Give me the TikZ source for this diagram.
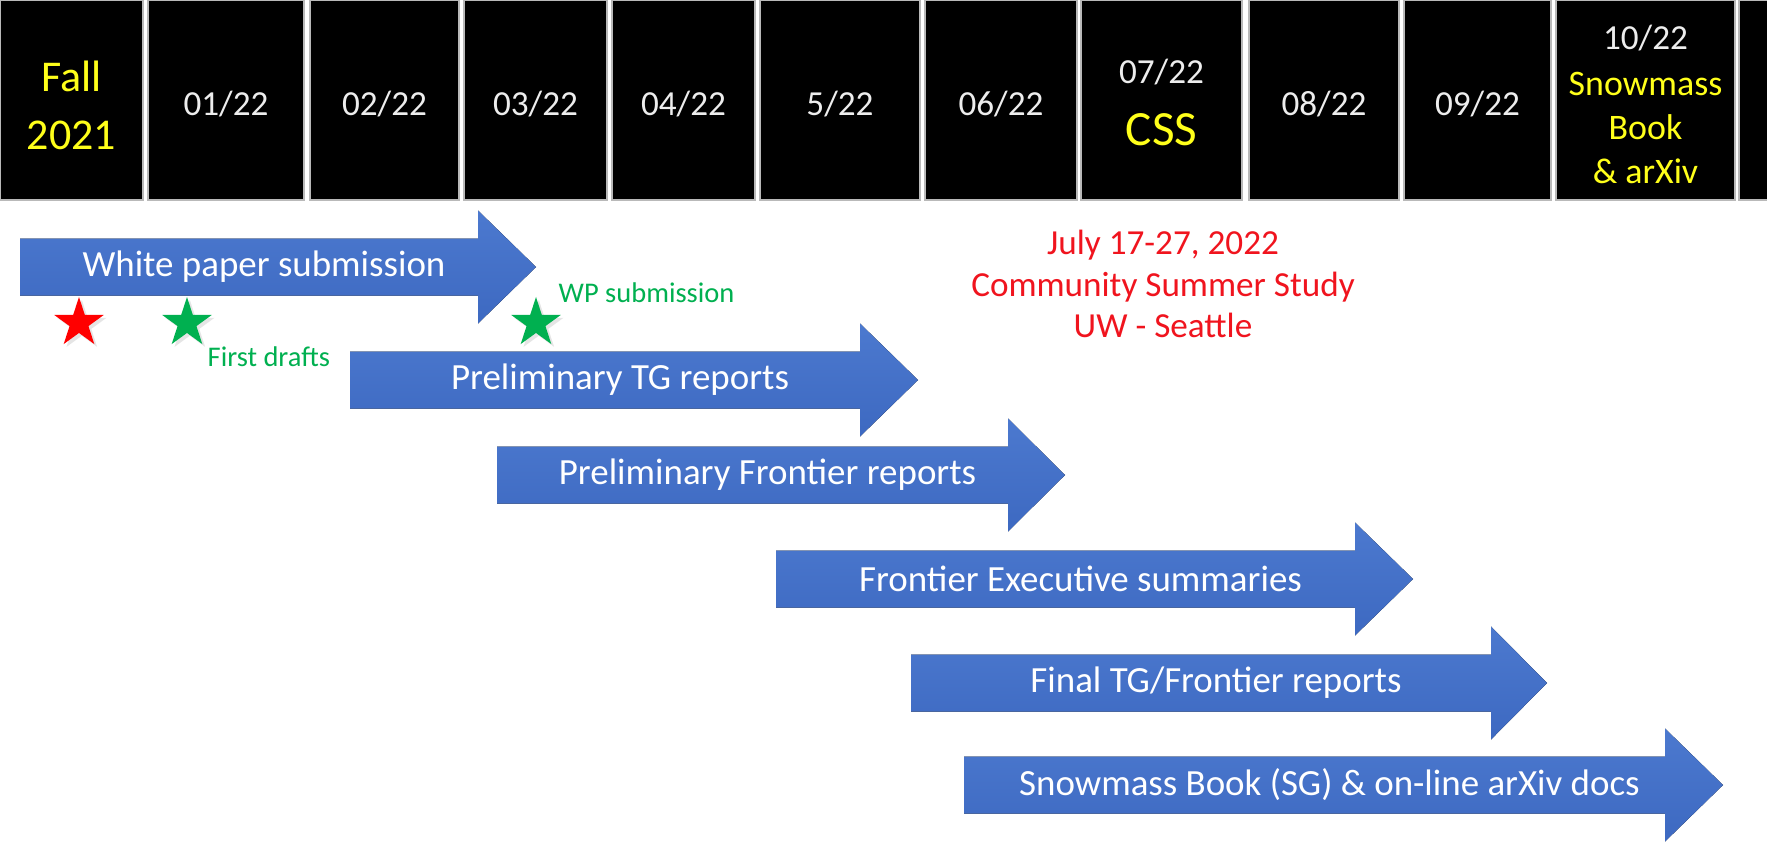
\documentclass[tikz,border=0pt]{standalone}
\usepackage{fontspec}
\setmainfont{Carlito}
\usetikzlibrary{shapes.geometric,shadows}

\definecolor{arrowtop}{HTML}{4C79CF}
\definecolor{arrowbot}{HTML}{3D69C1}
\definecolor{stargreen}{HTML}{00B050}
\definecolor{cssred}{HTML}{F0141E}
\definecolor{hdryellow}{HTML}{FFFF1A}
\definecolor{monthgray}{HTML}{EDEDED}

\tikzset{
  hdrbox/.style={fill=black, draw=gray!55, line width=0.5pt},
  monthtxt/.style={text=monthgray, font=\fontsize{10}{12}\selectfont, inner sep=0pt},
  yeltxt/.style={text=hdryellow, align=center, inner sep=0pt},
  bluearrow/.style={top color=arrowtop, bottom color=arrowbot},
  arrowtxt/.style={text=white, font=\fontsize{10.5}{12.6}\selectfont, inner sep=0pt},
  wpstar/.style={star, star points=5, star point ratio=2.618, shape border rotate=0,
    minimum size=0.52cm, inner sep=0pt,
    drop shadow={opacity=0.2, shadow xshift=0.8pt, shadow yshift=-0.8pt}},
  greennote/.style={text=stargreen, font=\fontsize{8.1}{10}\selectfont, inner sep=0pt},
  cssnote/.style={text=cssred, font=\fontsize{10}{11.8}\selectfont, align=center, inner sep=0pt}
}

\begin{document}
\begin{tikzpicture}[x=0.01cm, y=-0.01cm]
  \useasboundingbox[fill=white] (0,0) rectangle (1767,842);

  % month header
  \draw[hdrbox] (0,0) rectangle (143,200);
  \node[yeltxt, font=\fontsize{12.5}{16.5}\selectfont] (fall) at (71.5,105) {Fall\\2021};
  \draw[hdrbox] (148,0) rectangle (304,200);
  \node[monthtxt] (jan) at (226,104) {01/22};
  \draw[hdrbox] (310,0) rectangle (459,200);
  \node[monthtxt] (feb) at (384.5,104) {02/22};
  \draw[hdrbox] (464,0) rectangle (607,200);
  \node[monthtxt] (mar) at (535.5,104) {03/22};
  \draw[hdrbox] (612,0) rectangle (755,200);
  \node[monthtxt] (apr) at (683.5,104) {04/22};
  \draw[hdrbox] (760,0) rectangle (920,200);
  \node[monthtxt] (may) at (840,104) {5/22};
  \draw[hdrbox] (925,0) rectangle (1077,200);
  \node[monthtxt] (jun) at (1001,104) {06/22};
  \draw[hdrbox] (1081,0) rectangle (1242,200);
  \node[monthtxt] (jul) at (1161.5,72) {07/22};
  \node[yeltxt, font=\fontsize{14}{16}\selectfont] (css) at (1161.5,130) {CSS};
  \draw[hdrbox] (1249,0) rectangle (1399,200);
  \node[monthtxt] (aug) at (1324,104) {08/22};
  \draw[hdrbox] (1404,0) rectangle (1551,200);
  \node[monthtxt] (sep) at (1477.5,104) {09/22};
  \draw[hdrbox] (1556,0) rectangle (1735,200);
  \node[monthtxt] (oct) at (1645.5,38) {10/22};
  \node[yeltxt, font=\fontsize{10.2}{12.4}\selectfont] (sbook) at (1645.5,128) {Snowmass\\Book\\\& arXiv};
  \draw[hdrbox] (1739,0) rectangle (1775,200);

  % task arrows
  \fill[bluearrow] (20,238.5) -- (478,238.5) -- (478,210.5) -- (536,267) -- (478,323.5) -- (478,295.5) -- (20,295.5) -- cycle;
  \node[arrowtxt] (wp) at (264,267) {White paper submission};

  \fill[bluearrow] (350,351.5) -- (860,351.5) -- (860,323.5) -- (918,380) -- (860,436.5) -- (860,408.5) -- (350,408.5) -- cycle;
  \node[arrowtxt] (tgpre) at (620,380) {Preliminary TG reports};

  \fill[bluearrow] (497,446.5) -- (1008,446.5) -- (1008,418.5) -- (1065,475) -- (1008,531.5) -- (1008,503.5) -- (497,503.5) -- cycle;
  \node[arrowtxt] (frpre) at (767.5,475) {Preliminary Frontier reports};

  \fill[bluearrow] (776,550.5) -- (1355,550.5) -- (1355,522.5) -- (1413,579) -- (1355,635.5) -- (1355,607.5) -- (776,607.5) -- cycle;
  \node[arrowtxt] (exec) at (1080.5,579) {Frontier Executive summaries};

  \fill[bluearrow] (911,654.5) -- (1491,654.5) -- (1491,626.5) -- (1547,683) -- (1491,739.5) -- (1491,711.5) -- (911,711.5) -- cycle;
  \node[arrowtxt] (final) at (1216,683) {Final TG/Frontier reports};

  \fill[bluearrow] (964,756.5) -- (1665,756.5) -- (1665,728.5) -- (1723,785) -- (1665,841.5) -- (1665,813.5) -- (964,813.5) -- cycle;
  \node[arrowtxt] (arxiv) at (1329.5,785) {Snowmass Book (SG) \& on-line arXiv docs};

  % milestones
  \node[wpstar, fill=red] (start) at (79,323) {};
  \node[wpstar, fill=stargreen] (draft) at (187,323) {};
  \node[wpstar, fill=stargreen] (wpsub) at (536,323) {};
  \node[greennote, anchor=west] (drafttxt) at (207,357) {First drafts};
  \node[greennote, anchor=west] (wpsubtxt) at (558,293) {WP submission};

  \node[cssnote] (cssinfo) at (1163,284) {July 17-27, 2022\\Community Summer Study\\UW - Seattle};
\end{tikzpicture}
\end{document}
